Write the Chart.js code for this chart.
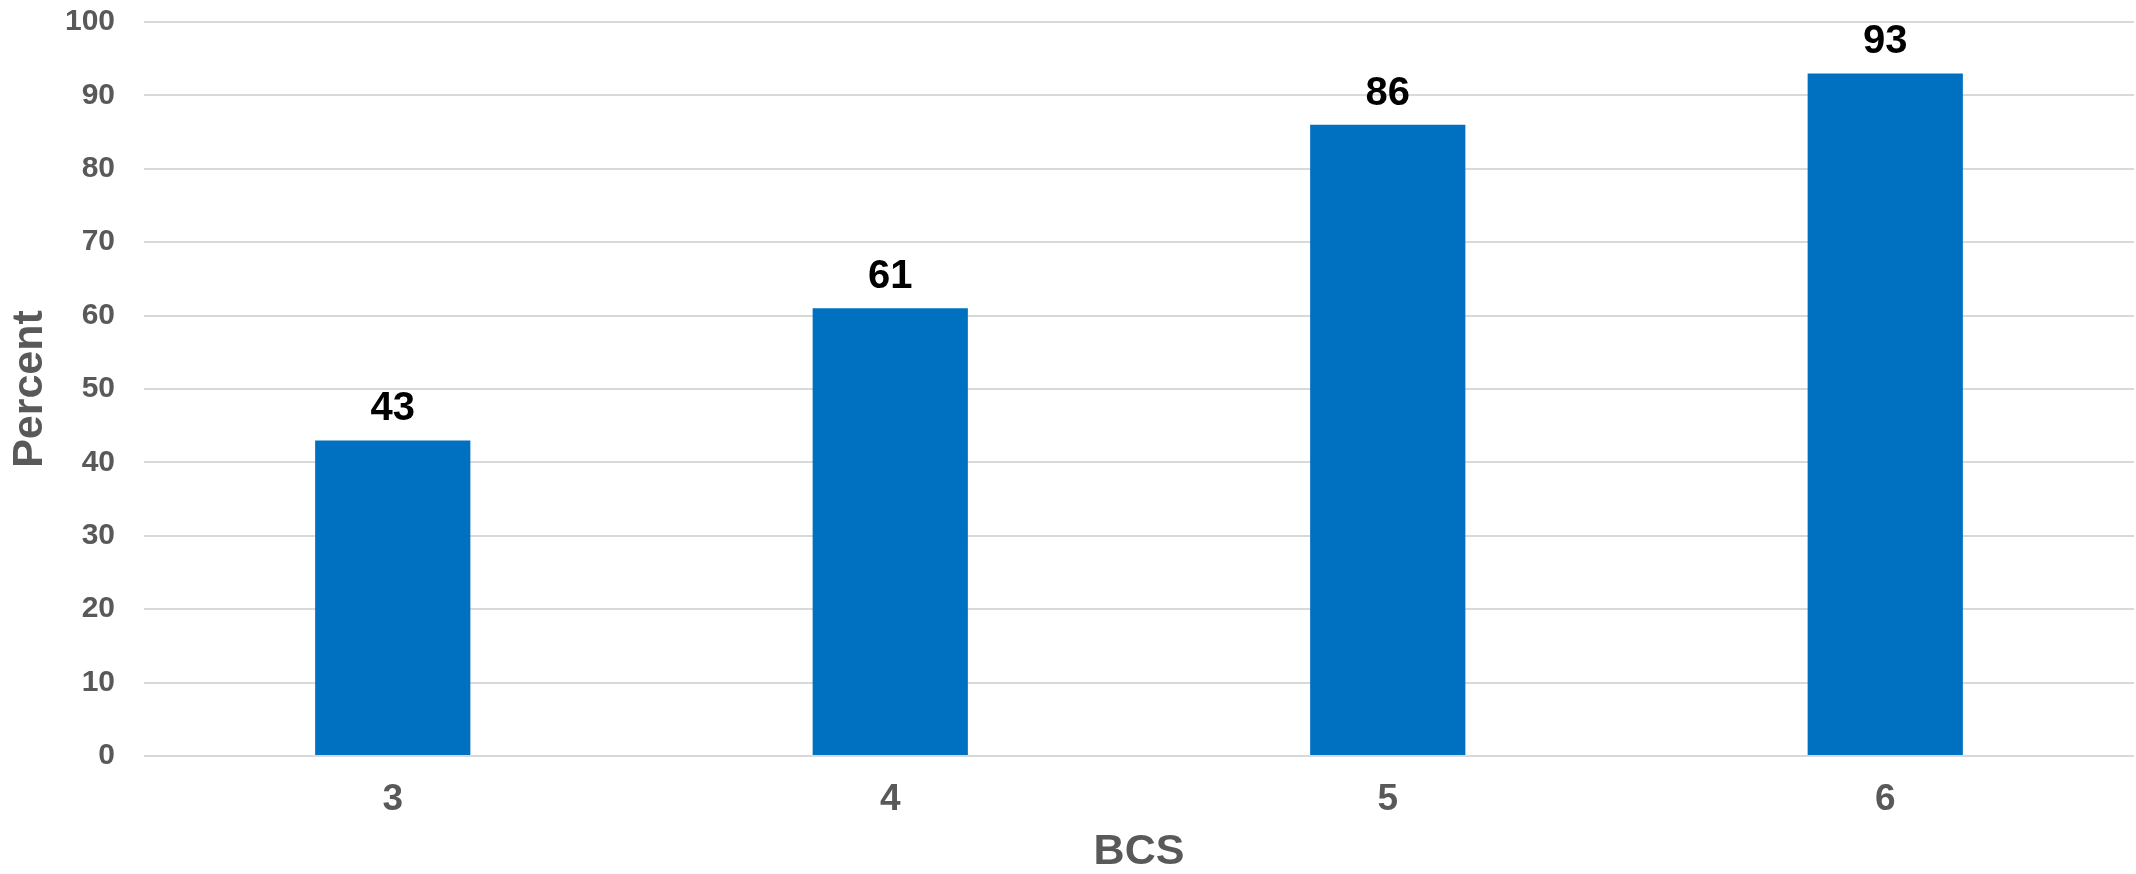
<!DOCTYPE html>
<html>
<head>
<meta charset="utf-8">
<script src="https://cdn.jsdelivr.net/npm/chart.js@4"></script>
<style>
html,body{margin:0;padding:0;background:#fff;}
#wrap{width:2136px;height:874px;position:relative;}
</style>
</head>
<body>
<div id="wrap"><canvas id="c" width="2136" height="874"></canvas></div>
<script>
const categories = ['3', '4', '5', '6'];
const percentValues = [43, 61, 86, 93];
const yTickValues = [0, 10, 20, 30, 40, 50, 60, 70, 80, 90, 100];
const xAxisTitle = 'BCS';
const yAxisTitle = 'Percent';

const FONT = "'Liberation Sans', Arial, sans-serif";

const valueLabels = {
  id: 'valueLabels',
  afterDatasetsDraw(chart) {
    const ctx = chart.ctx;
    const meta = chart.getDatasetMeta(0);
    ctx.save();
    ctx.font = "bold 40px " + FONT;
    ctx.fillStyle = '#000000';
    ctx.textAlign = 'center';
    ctx.textBaseline = 'alphabetic';
    meta.data.forEach((bar, i) => {
      ctx.fillText(String(chart.data.datasets[0].data[i]), bar.x, bar.y - 20);
    });
    ctx.restore();
  }
};

new Chart(document.getElementById('c'), {
  type: 'bar',
  data: {
    labels: categories,
    datasets: [{
      data: percentValues,
      backgroundColor: '#0070C0',
      borderWidth: 0,
      barPercentage: 0.312,
      categoryPercentage: 1.0
    }]
  },
  options: {
    responsive: false,
    animation: false,
    devicePixelRatio: 1,
    layout: { padding: { top: 22, right: 2, left: 0, bottom: 0 } },
    plugins: { legend: { display: false }, tooltip: { enabled: false } },
    scales: {
      x: {
        grid: { display: false, drawTicks: false },
        border: { display: false },
        ticks: { color: '#595959', font: { family: FONT, size: 37, weight: 'bold', lineHeight: 1 }, padding: 25 },
        title: { display: true, text: xAxisTitle, color: '#595959', font: { family: FONT, size: 43, weight: 'bold', lineHeight: 1 }, padding: { top: 0, bottom: 0 } },
        afterFit(scale) { scale.height = 118; scale.paddingLeft = 0; scale.paddingRight = 0; }
      },
      y: {
        min: 0, max: 100,
        afterBuildTicks(scale) { scale.ticks = yTickValues.map(v => ({ value: v })); },
        grid: { color: '#D9D9D9', lineWidth: 2, drawTicks: false },
        border: { display: false },
        ticks: { color: '#595959', font: { family: FONT, size: 30, weight: 'bold' }, padding: 29 },
        title: { display: true, text: yAxisTitle, color: '#595959', font: { family: FONT, size: 43, weight: 'bold', lineHeight: 1 }, padding: { top: 9, bottom: 0 } },
        afterFit(scale) { scale.width = 144; scale.paddingTop = 0; scale.paddingBottom = 0; }
      }
    }
  },
  plugins: [valueLabels]
});
</script>
</body>
</html>
